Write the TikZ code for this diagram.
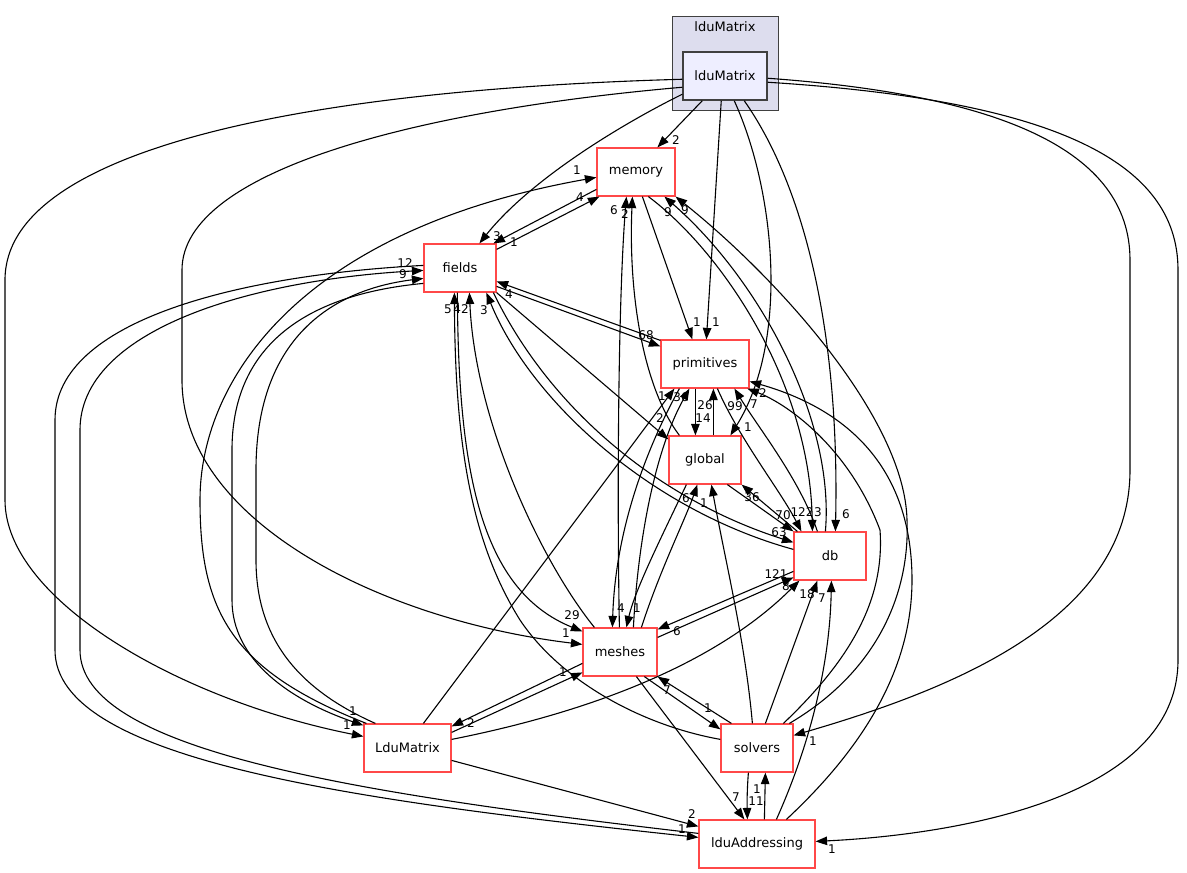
\documentclass[tikz,border=0pt]{standalone}
\usepackage{fontspec}
\setmainfont{DejaVu Sans}
\usetikzlibrary{arrows.meta,calc}
\definecolor{nred}{RGB}{255,72,72}
\definecolor{cfill}{RGB}{221,221,238}
\definecolor{cedge}{RGB}{64,64,64}
\definecolor{infill}{RGB}{238,238,255}
\begin{document}
\begin{tikzpicture}[x=1pt,y=-1pt,
  dnode/.style={draw=nred, line width=1.2pt, fill=white, minimum height=48pt, inner sep=0pt, font=\fontsize{13}{15}\selectfont},
  dep/.style={line width=1.1pt, -{Triangle[length=11.5pt,width=8.5pt]}},
  lab/.style={font=\fontsize{12}{14}\selectfont, inner sep=0pt}]
\useasboundingbox (0,0) rectangle (1187,873);
% cluster
\node[draw=cedge, fill=cfill, line width=1pt, minimum width=106pt, minimum height=94pt, inner sep=0pt] (cluster) at (725,63) {};
\node[font=\fontsize{13}{15}\selectfont, inner sep=0pt] (clab) at (725,27) {lduMatrix};
\node[draw=cedge, fill=infill, line width=1.5pt, minimum width=84pt, minimum height=48pt, inner sep=0pt, font=\fontsize{13}{15}\selectfont] (lduIn) at (725,76) {lduMatrix};
% nodes
\node[dnode, minimum width=78pt] (memory) at (636,172) {memory};
\node[dnode, minimum width=72pt] (fields) at (460,268) {fields};
\node[dnode, minimum width=88pt] (prim) at (705,364) {primitives};
\node[dnode, minimum width=72pt] (global) at (705,460) {global};
\node[dnode, minimum width=72pt] (db) at (830,556) {db};
\node[dnode, minimum width=74pt] (meshes) at (620,652) {meshes};
\node[dnode, minimum width=87pt] (LduM) at (407.5,748) {LduMatrix};
\node[dnode, minimum width=72pt] (solvers) at (757,748) {solvers};
\node[dnode, minimum width=116pt] (lduAddr) at (757,844) {lduAddressing};
% edges from lduMatrix
\draw[dep] ($(lduIn.south west)+(20,0)$) -- ($(memory.north west)+(61,0)$);
\node[lab] (l1) at (676,140) {2};
\draw[dep] ($(lduIn.north west)+(0,43)$) .. controls (620,125) and (530,180) .. ($(fields.north west)+(56,0)$);
\node[lab] (l2) at (497,236) {3};
\draw[dep] ($(lduIn.north west)+(0,36)$) .. controls (420,110) and (182,170) .. (182,270) -- (182,380) .. controls (182,520) and (380,620) .. ($(meshes.north west)+(0,17)$);
\node[lab] (l3) at (566,633) {1};
\draw[dep] ($(lduIn.north west)+(0,28)$) .. controls (300,90) and (5,150) .. (5,280) -- (5,500) .. controls (5,600) and (180,700) .. ($(LduM.north west)+(0,13)$);
\node[lab] (l4) at (347,725) {1};
\draw[dep] ($(lduIn.south west)+(39,0)$) -- ($(prim.north west)+(46,0)$);
\node[lab] (l5) at (716,322) {1};
\draw[dep] ($(lduIn.south west)+(52,0)$) .. controls (775,190) and (790,340) .. ($(global.north west)+(62,0)$);
\node[lab] (l6) at (748,427) {1};
\draw[dep] ($(lduIn.south west)+(62,0)$) .. controls (800,180) and (840,320) .. ($(db.north west)+(42,0)$);
\node[lab] (l7) at (846,514) {6};
\draw[dep] ($(lduIn.north east)+(0,27)$) .. controls (1000,95) and (1130,150) .. (1130,260) -- (1130,470) .. controls (1130,620) and (950,690) .. ($(solvers.north east)+(0,12)$);
\node[lab] (l8) at (813,741) {1};
\draw[dep] ($(lduIn.north east)+(0,31)$) .. controls (1050,100) and (1178,160) .. (1178,270) -- (1178,660) .. controls (1178,800) and (950,835) .. ($(lduAddr.north east)+(0,22)$);
\node[lab] (l9) at (832,849) {1};
% memory / fields
\draw[dep] ($(fields.north east)+(0,6)$) -- ($(memory.south west)+(3,0)$);
\node[lab] (l10) at (580,197) {4};
\draw[dep] ($(memory.north west)+(0,42)$) -- ($(fields.north west)+(70,0)$);
\node[lab] (l11) at (514,242) {1};
\draw[dep] ($(LduM.north west)+(3,0)$) .. controls (230,670) and (200,610) .. (200,500) .. controls (200,380) and (300,230) .. ($(memory.north west)+(0,30)$);
\node[lab] (l12) at (577,170) {1};
% fields / LduMatrix / lduAddressing
\draw[dep] ($(fields.north west)+(0,40)$) .. controls (300,295) and (232,350) .. (232,450) -- (232,600) .. controls (232,660) and (290,700) .. ($(LduM.north west)+(0,2)$);
\node[lab] (l13) at (353,711) {1};
\draw[dep] ($(LduM.north west)+(12,0)$) .. controls (300,690) and (256,640) .. (256,560) -- (256,470) .. controls (256,340) and (330,290) .. ($(fields.north west)+(0,35)$);
\node[lab] (l14) at (403,274) {9};
\draw[dep] ($(fields.north west)+(0,22)$) .. controls (240,275) and (55,320) .. (55,420) -- (55,650) .. controls (55,760) and (350,800) .. ($(lduAddr.north west)+(0,18)$);
\node[lab] (l15) at (682,829) {1};
\draw[dep] ($(lduAddr.north west)+(0,14)$) .. controls (350,793) and (80,750) .. (80,650) -- (80,430) .. controls (80,330) and (250,280) .. ($(fields.north west)+(0,27)$);
\node[lab] (l16) at (405,263) {12};
% LduMatrix outgoing
\draw[dep] ($(LduM.north east)+(0,37)$) -- ($(lduAddr.north west)+(0,7)$);
\node[lab] (l17) at (692,814) {2};
\draw[dep] ($(LduM.north west)+(60,0)$) -- ($(prim.south west)+(14,0)$);
\node[lab] (l18) at (662,396) {1};
\draw[dep] ($(meshes.north west)+(0,36)$) -- ($(LduM.north east)+(0,3)$);
\node[lab] (l19) at (471,723) {2};
\draw[dep] ($(LduM.north east)+(0,9)$) -- ($(meshes.north west)+(0,45)$);
\node[lab] (l20) at (563,672) {1};
\draw[dep] ($(LduM.north east)+(0,16)$) .. controls (600,710) and (720,660) .. ($(db.south west)+(6,0)$);
\node[lab] (l21) at (786,586) {8};
% into fields bottom
\draw[dep] ($(solvers.north west)+(0,16)$) .. controls (640,725) and (560,680) .. (520,620) .. controls (470,540) and (455,440) .. ($(fields.south west)+(31,0)$);
\node[lab] (l22) at (448,309) {5};
\draw[dep] ($(meshes.north west)+(12,0)$) .. controls (540,560) and (475,420) .. ($(fields.south west)+(46,0)$);
\node[lab] (l23) at (461,309) {42};
\draw[dep] ($(fields.south west)+(34,0)$) .. controls (458,470) and (480,590) .. ($(meshes.north west)+(0,4)$);
\node[lab] (l24) at (572,615) {29};
\draw[dep] ($(db.north west)+(0,18)$) .. controls (650,510) and (530,400) .. ($(fields.south west)+(63,0)$);
\node[lab] (l25) at (484,310) {3};
\draw[dep] ($(fields.south west)+(70,0)$) .. controls (550,410) and (660,500) .. ($(db.north west)+(0,11)$);
\node[lab] (l26) at (779,532) {63};
\draw[dep] (fields.south east) -- ($(global.north west)+(0,4)$);
\node[lab] (l27) at (660,418) {2};
\draw[dep] ($(prim.north west)+(0,1)$) -- ($(fields.north east)+(0,38)$);
\node[lab] (l28) at (509,294) {4};
\draw[dep] ($(fields.north east)+(0,43)$) -- ($(prim.north west)+(0,7)$);
\node[lab] (l29) at (646,335) {68};
% memory outgoing / incoming
\draw[dep] ($(memory.south west)+(46,0)$) -- ($(prim.north west)+(32,0)$);
\node[lab] (l30) at (697,322) {1};
\draw[dep] ($(memory.south west)+(52,0)$) .. controls (720,250) and (810,380) .. ($(db.north west)+(19,0)$);
\node[lab] (l31) at (818,512) {3};
\draw[dep] ($(db.north west)+(32,0)$) .. controls (835,420) and (760,280) .. ($(memory.south west)+(68,0)$);
\node[lab] (l32) at (668,212) {9};
\draw[dep] ($(solvers.north west)+(69,0)$) .. controls (880,670) and (910,590) .. (907,520) .. controls (905,420) and (780,280) .. (memory.south east);
\node[lab] (l33) at (685,210) {9};
\draw[dep] ($(global.north west)+(11,0)$) .. controls (645,390) and (628,300) .. ($(memory.south west)+(36,0)$);
\node[lab] (l34) at (625,214) {2};
\draw[dep] ($(meshes.north west)+(37,0)$) .. controls (617,500) and (618,300) .. ($(memory.south west)+(30,0)$);
\node[lab] (l35) at (614,210) {6};
% right side curves to primitives
\draw[dep] ($(solvers.north west)+(63,0)$) .. controls (850,660) and (885,600) .. (880,530) .. controls (850,450) and (790,405) .. ($(prim.south west)+(87,0)$);
\node[lab] (l36) at (754,404) {7};
\draw[dep] ($(lduAddr.north west)+(88,0)$) .. controls (850,760) and (912,680) .. (912,580) .. controls (912,470) and (850,410) .. ($(prim.north east)+(0,42)$);
\node[lab] (l37) at (763,393) {2};
% db incoming from below
\draw[dep] ($(lduAddr.north west)+(78,0)$) .. controls (812,740) and (830,660) .. ($(db.south west)+(38,0)$);
\node[lab] (l38) at (822,598) {7};
\draw[dep] ($(solvers.north west)+(45,0)$) -- ($(db.south west)+(24,0)$);
\node[lab] (l39) at (807,594) {18};
\draw[dep] ($(solvers.north west)+(32,0)$) .. controls (745,640) and (725,560) .. ($(global.south west)+(43,0)$);
\node[lab] (l40) at (704,503) {1};
% meshes / solvers / lduAddressing
\draw[dep] ($(meshes.south west)+(62,0)$) -- ($(solvers.north west)+(0,6)$);
\node[lab] (l41) at (708,708) {1};
\draw[dep] ($(solvers.north west)+(11,0)$) -- (meshes.south east);
\node[lab] (l42) at (667,690) {7};
\draw[dep] ($(meshes.south west)+(54,0)$) -- ($(lduAddr.north west)+(46,0)$);
\node[lab] (l43) at (736,797) {7};
\draw[dep] ($(solvers.south west)+(28,0)$) .. controls (747,790) and (747,805) .. ($(lduAddr.north west)+(49,0)$);
\node[lab] (l44) at (756,801) {11};
\draw[dep] ($(lduAddr.north west)+(66,0)$) -- ($(solvers.south west)+(45,0)$);
\node[lab] (l45) at (757,789) {1};
% meshes / db
\draw[dep] ($(meshes.north east)+(0,10)$) -- ($(db.north west)+(0,46)$);
\node[lab] (l46) at (776,574) {121};
\draw[dep] ($(db.north west)+(0,40)$) -- ($(meshes.north east)+(0,2)$);
\node[lab] (l47) at (677,631) {6};
% meshes / primitives / global
\draw[dep] ($(prim.south west)+(19,0)$) .. controls (640,460) and (615,540) .. ($(meshes.north west)+(30,0)$);
\node[lab] (l48) at (621,608) {4};
\draw[dep] ($(global.south west)+(18,0)$) .. controls (660,540) and (635,590) .. ($(meshes.north west)+(44,0)$);
\node[lab] (l49) at (637,608) {1};
\draw[dep] ($(meshes.north west)+(59,0)$) .. controls (660,570) and (685,520) .. ($(global.south west)+(29,0)$);
\node[lab] (l50) at (686,498) {6};
\draw[dep] ($(meshes.north west)+(51,0)$) .. controls (638,540) and (655,450) .. ($(prim.south west)+(29,0)$);
\node[lab] (l51) at (681,397) {36};
% primitives / global / db
\draw[dep] ($(prim.south west)+(35,0)$) -- ($(global.north west)+(27,0)$);
\node[lab] (l52) at (703,418) {14};
\draw[dep] ($(global.north west)+(45,0)$) -- ($(prim.south west)+(53,0)$);
\node[lab] (l53) at (705,405) {26};
\draw[dep] ($(db.north west)+(24,0)$) .. controls (800,480) and (760,430) .. ($(prim.south west)+(74,0)$);
\node[lab] (l54) at (735,406) {99};
\draw[dep] ($(prim.south west)+(57,0)$) .. controls (740,440) and (780,490) .. ($(db.north west)+(8,0)$);
\node[lab] (l55) at (802,512) {122};
\draw[dep] ($(global.south west)+(59,0)$) -- (db.north west);
\node[lab] (l56) at (783,515) {70};
\draw[dep] ($(db.north west)+(4,0)$) -- (global.south east);
\node[lab] (l57) at (752,497) {36};
\end{tikzpicture}
\end{document}
